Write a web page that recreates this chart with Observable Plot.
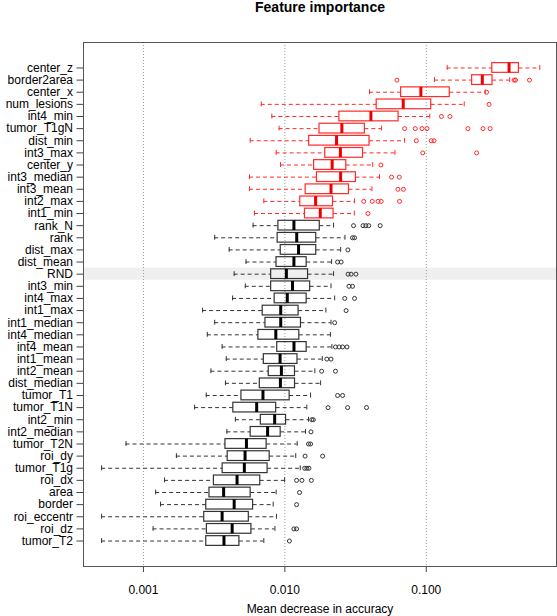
<!DOCTYPE html>
<html><head><meta charset="utf-8">
<script src="https://cdn.jsdelivr.net/npm/d3@7"></script>
<script src="https://cdn.jsdelivr.net/npm/@observablehq/plot@0.6"></script>
<style>body{margin:0;background:#fff;} svg{display:block;}</style>
</head><body><div id="chart"></div>
<script>
const title = "Feature importance";
const xLabel = "Mean decrease in accuracy";
const xTicks = [0.001, 0.01, 0.1];
const highlight = "RND";
const nRed = 13;
const features = ["center_z","border2area","center_x","num_lesions","int4_min","tumor_T1gN","dist_min","int3_max","center_y","int3_median","int3_mean","int2_max","int1_min","rank_N","rank","dist_max","dist_mean","RND","int3_min","int4_max","int1_max","int1_median","int4_median","int4_mean","int1_mean","int2_mean","dist_median","tumor_T1","tumor_T1N","int2_min","int2_median","tumor_T2N","roi_dy","tumor_T1g","roi_dx","area","border","roi_eccentr","roi_dz","tumor_T2"];
const lo = [0.1406,0.1143,0.0397,0.00681,0.00809,0.00910,0.00569,0.00868,0.00931,0.00562,0.00562,0.00710,0.00610,0.00596,0.00319,0.00404,0.00531,0.00438,0.00525,0.00427,0.00262,0.00319,0.00283,0.00360,0.00385,0.00300,0.00380,0.00278,0.00230,0.00447,0.00389,0.000753,0.00171,0.000506,0.00141,0.00122,0.00132,0.000506,0.00117,0.000506];
const q1 = [0.293,0.211,0.0664,0.0446,0.0243,0.01758,0.01486,0.0193,0.0161,0.01687,0.01403,0.01285,0.01387,0.0090,0.00889,0.00935,0.00873,0.00800,0.00800,0.00847,0.00697,0.00729,0.00650,0.00883,0.00710,0.00769,0.00665,0.00493,0.00432,0.00676,0.00573,0.00380,0.00394,0.00363,0.00315,0.00293,0.00278,0.00269,0.00281,0.00278];
const med = [0.385,0.249,0.0916,0.0687,0.0406,0.0253,0.0232,0.0247,0.0216,0.0248,0.0212,0.0165,0.0178,0.01159,0.01213,0.0125,0.01159,0.01025,0.01132,0.0104,0.00935,0.00935,0.00863,0.01160,0.00925,0.00945,0.00930,0.00700,0.00632,0.00847,0.00755,0.00535,0.00523,0.00517,0.00459,0.00369,0.00438,0.00360,0.00424,0.00371];
const q3 = [0.452,0.294,0.1466,0.1084,0.0637,0.0368,0.0397,0.0357,0.0272,0.0318,0.0284,0.0219,0.0221,0.01766,0.01667,0.01667,0.01426,0.01459,0.0151,0.01426,0.0125,0.0130,0.01265,0.01426,0.01228,0.01179,0.0118,0.01081,0.00868,0.0102,0.00934,0.00743,0.00781,0.00755,0.00670,0.00573,0.00596,0.00556,0.00580,0.00477];
const hi = [0.635,0.389,0.261,0.1855,0.1059,0.0483,0.0703,0.0601,0.0418,0.0467,0.0413,0.0311,0.0310,0.0221,0.0266,0.0248,0.0214,0.0221,0.0212,0.0225,0.0195,0.0212,0.0210,0.0215,0.0184,0.0163,0.0179,0.0152,0.0143,0.0147,0.0140,0.01222,0.01194,0.01285,0.00996,0.00868,0.00827,0.00872,0.00851,0.00710];
const outliers = [[],[0.062,0.418,0.428,0.537],[0.267],[0.278],[0.128,0.147],[0.0703,0.0835,0.0933,0.1012,0.197,0.252,0.283],[0.0851,0.1084,0.1135],[0.0944,0.227],[0.0478],[0.0568,0.0644],[0.0630,0.0690],[0.0361,0.0415,0.0456,0.0480,0.0647],[0.0387],[0.0306,0.0357,0.0374,0.0392,0.0472],[0.0301,0.0311],[0.0279],[0.0236,0.0250],[0.0280,0.0294,0.0318],[0.0284,0.0301],[0.0265,0.0311],[0.0271],[0.0225],[],[0.0228,0.0242,0.0256,0.0275],[0.0198,0.0212],[0.0182,0.0228],[],[0.0236,0.0256],[0.0202,0.0278,0.0378],[0.0155,0.0159],[0.0153],[0.0147,0.0152],[0.0139,0.0185],[0.0138,0.0143,0.0148],[0.0121,0.0132,0.0154],[0.0127],[0.0121],[],[0.01159,0.0121],[0.01077]];

const rows = features.map((f, i) => ({name: f, pos: i + 1, lo: lo[i], q1: q1[i], med: med[i], q3: q3[i], hi: hi[i],
  box: i < nRed ? "#ff2a2a" : "#333", line: i < nRed ? "#ee0000" : "#000"}));
const outs = rows.flatMap((r, i) => outliers[i].map(v => ({pos: r.pos, v, box: r.box})));
const hiPos = features.indexOf(highlight) + 1;
const hw = 0.4, sw = 0.2;

const chart = Plot.plot({
  width: 557, height: 616,
  marginTop: 42, marginBottom: 50, marginLeft: 83, marginRight: 1,
  style: {fontFamily: "'Liberation Sans', Arial, Helvetica, sans-serif", fontSize: "12px", background: "#fff", color: "#000"},
  x: {type: "log", domain: [Math.pow(10, -3.424), Math.pow(10, -0.079)]},
  y: {domain: [-1.1, 42.1], reverse: true},
  color: {type: "identity"},
  marks: [
    Plot.rect([0], {y1: hiPos - 0.5, y2: hiPos + 0.5, fill: "#efefef"}),
    Plot.ruleX(xTicks, {stroke: "#9a9a9a", strokeDasharray: "1,2"}),
    Plot.ruleY(rows, {x1: "lo", x2: "q1", y: "pos", stroke: "box", strokeDasharray: "4,3"}),
    Plot.ruleY(rows, {x1: "q3", x2: "hi", y: "pos", stroke: "box", strokeDasharray: "4,3"}),
    Plot.ruleX(rows, {x: "lo", y1: d => d.pos - sw, y2: d => d.pos + sw, stroke: "box"}),
    Plot.ruleX(rows, {x: "hi", y1: d => d.pos - sw, y2: d => d.pos + sw, stroke: "box"}),
    Plot.rect(rows, {x1: "q1", x2: "q3", y1: d => d.pos - hw, y2: d => d.pos + hw, fill: "none", stroke: "box", strokeWidth: 1.2}),
    Plot.ruleX(rows, {x: "med", y1: d => d.pos - hw, y2: d => d.pos + hw, stroke: "line", strokeWidth: 3}),
    Plot.dot(outs, {x: "v", y: "pos", r: 2, stroke: "box", strokeWidth: 1, fill: "none"}),
    Plot.frame({stroke: "#555"}),
    Plot.axisX({ticks: xTicks, tickFormat: d => d.toFixed(3), tickSize: 6, tickPadding: 13, label: null, stroke: "#444"}),
    Plot.axisY({ticks: d3.range(1, features.length + 1), tickFormat: d => features[d - 1], tickSize: 6.5, tickPadding: 4, label: null, stroke: "#444"}),
    Plot.text([title], {frameAnchor: "top", dy: -31, lineAnchor: "bottom", fontWeight: "bold", fontSize: 14}),
    Plot.text([xLabel], {frameAnchor: "bottom", dy: 46, lineAnchor: "bottom", fontSize: 12})
  ]
});
document.getElementById("chart").appendChild(chart);
</script>
</body></html>
